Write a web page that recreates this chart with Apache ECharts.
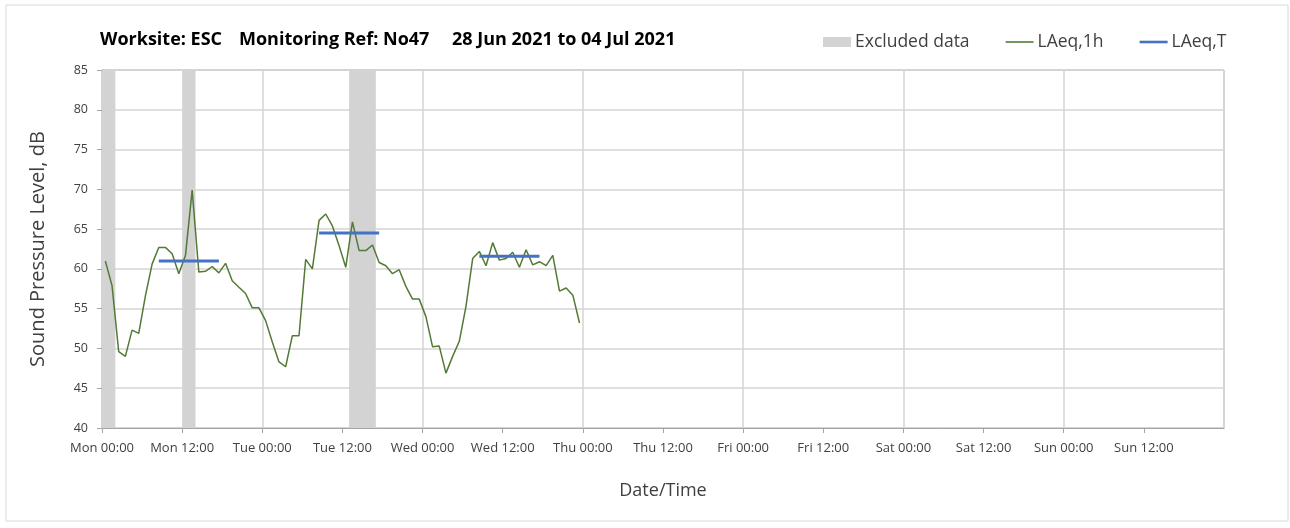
<!DOCTYPE html>
<html>
<head>
<meta charset="utf-8">
<script src="https://cdn.jsdelivr.net/npm/echarts@6/dist/echarts.min.js"></script>
<style>
  html, body { margin: 0; padding: 0; background: #fff; }
  #chart { width: 1290px; height: 528px; }
</style>
</head>
<body>
<div id="chart"></div>
<script>
// week starts Mon 28 Jun 2021 00:00 (UTC used for labels)
const weekStart = Date.UTC(2021, 5, 28, 0, 0)
const HOUR = 3600 * 1000

// LAeq,1h, one value per hour from Mon 00:00
const hourlyLevels = [
  61.0, 57.9, 49.6, 49.0, 52.3, 51.9, 56.6, 60.6, 62.7, 62.7,
  61.9, 59.4, 61.7, 69.9, 59.6, 59.7, 60.3, 59.5, 60.7, 58.5,
  57.7, 56.9, 55.1, 55.1, 53.5, 50.8, 48.3, 47.7, 51.6, 51.6,
  61.2, 60.0, 66.1, 66.9, 65.4, 62.9, 60.2, 65.9, 62.3, 62.3,
  63.0, 60.8, 60.4, 59.4, 59.9, 57.8, 56.2, 56.2, 54.0, 50.2,
  50.3, 46.9, 49.0, 50.9, 55.3, 61.3, 62.2, 60.4, 63.3, 61.1,
  61.3, 62.1, 60.2, 62.4, 60.5, 60.9, 60.4, 61.7, 57.2, 57.6,
  56.7, 53.2
]

// LAeq,T daytime periods (hours from week start)
const periodFrom = [8.5, 32.5, 56.5]
const periodTo = [17.5, 41.5, 65.5]
const periodLevels = [61.0, 64.5, 61.6]

// excluded data (hours from week start)
const excludedFrom = [0, 12, 37]
const excludedTo = [2, 14, 41]

const dayNames = ['Sun', 'Mon', 'Tue', 'Wed', 'Thu', 'Fri', 'Sat']
const font = '"Open Sans", sans-serif'
const textColor = '#404040'

const hourlyData = hourlyLevels.map((v, i) => [weekStart + (i + 0.5) * HOUR, v])
const periodData = []
periodLevels.forEach((v, i) => {
  periodData.push([weekStart + periodFrom[i] * HOUR, v])
  periodData.push([weekStart + periodTo[i] * HOUR, v])
  periodData.push([weekStart + periodTo[i] * HOUR, '-'])
})
const excludedAreas = excludedFrom.map((h, i) => [
  { xAxis: weekStart + h * HOUR },
  { xAxis: weekStart + excludedTo[i] * HOUR }
])

const chart = echarts.init(document.getElementById('chart'))
const option = {
  animation: false,
  textStyle: { fontFamily: font },
  graphic: [
    {
      type: 'rect',
      shape: { x: 6, y: 5, width: 1282, height: 516 },
      style: { fill: null, stroke: '#d9d9d9', lineWidth: 1 },
      silent: true
    },
    { type: 'text', left: 100, top: 31, style: { text: 'Worksite: ESC', font: 'bold 18px ' + font, fill: '#000' } },
    { type: 'text', left: 239, top: 31, style: { text: 'Monitoring Ref: No47', font: 'bold 18px ' + font, fill: '#000' } },
    { type: 'text', left: 452, top: 31, style: { text: '28 Jun 2021 to 04 Jul 2021', font: 'bold 18px ' + font, fill: '#000' } }
  ],
  legend: {
    left: 823,
    top: 33,
    padding: 0,
    itemGap: 36,
    itemWidth: 28,
    itemHeight: 10,
    textStyle: { fontSize: 17.5, color: textColor, fontFamily: font, padding: [0, 0, 0, -1] },
    data: [
      { name: 'Excluded data', icon: 'rect' },
      { name: 'LAeq,1h', icon: 'path://M0,0H28V1.6H0Z' },
      { name: 'LAeq,T', icon: 'path://M0,0H28V2.6H0Z' }
    ]
  },
  grid: {
    left: 102,
    right: 66,
    top: 70,
    bottom: 100,
    show: true,
    borderColor: '#a6a6a6',
    borderWidth: 1
  },
  xAxis: [
    {
      type: 'value',
      min: weekStart,
      max: weekStart + 168 * HOUR,
      interval: 12 * HOUR,
      name: 'Date/Time',
      nameLocation: 'middle',
      nameGap: 54,
      nameTextStyle: { fontSize: 18, color: textColor, fontFamily: font },
      axisLine: { lineStyle: { color: '#a6a6a6' } },
      axisTick: { length: 5, lineStyle: { color: '#a6a6a6' } },
      splitLine: { show: false },
      axisLabel: {
        margin: 14,
        fontSize: 13,
        color: textColor,
        showMaxLabel: false,
        formatter: v => {
          const d = new Date(v)
          const hh = String(d.getUTCHours()).padStart(2, '0')
          return dayNames[d.getUTCDay()] + ' ' + hh + ':00'
        }
      }
    },
    {
      // day gridlines only
      type: 'value',
      min: weekStart,
      max: weekStart + 168 * HOUR,
      interval: 24 * HOUR,
      position: 'bottom',
      axisLine: { show: false },
      axisTick: { show: false },
      axisLabel: { show: false },
      splitLine: { show: true, lineStyle: { color: '#d4d4d4', width: 1.5 } }
    }
  ],
  yAxis: {
    type: 'value',
    min: 40,
    max: 85,
    interval: 5,
    name: 'Sound Pressure Level, dB',
    nameLocation: 'middle',
    nameGap: 54,
    nameTextStyle: { fontSize: 20, color: textColor, fontFamily: font },
    axisLine: { show: true, lineStyle: { color: '#a6a6a6' } },
    axisTick: { show: true, length: 5, lineStyle: { color: '#a6a6a6' } },
    axisLabel: { margin: 14, fontSize: 12.5, color: textColor },
    splitLine: { lineStyle: { color: '#d4d4d4', width: 1.5 } }
  },
  series: [
    {
      name: 'Excluded data',
      type: 'line',
      color: '#d3d3d3',
      data: [],
      z: 1,
      markArea: {
        silent: true,
        itemStyle: { color: '#d3d3d3', opacity: 1 },
        data: excludedAreas
      }
    },
    {
      name: 'LAeq,1h',
      type: 'line',
      color: '#527a35',
      symbol: 'none',
      lineStyle: { width: 1.5, color: '#527a35' },
      data: hourlyData,
      z: 3
    },
    {
      name: 'LAeq,T',
      type: 'line',
      color: '#4472c4',
      symbol: 'none',
      lineStyle: { width: 3, color: '#4472c4' },
      data: periodData,
      z: 4
    }
  ]
}
chart.setOption(option)
</script>
</body>
</html>
